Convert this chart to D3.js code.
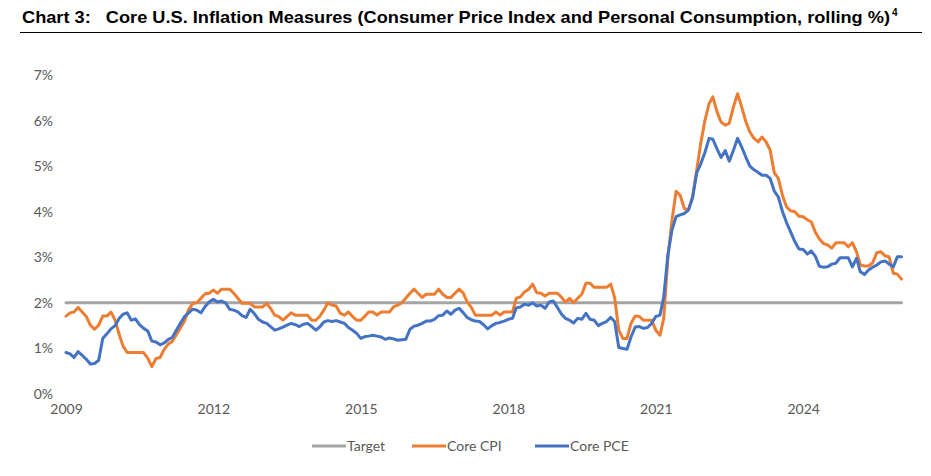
<!DOCTYPE html>
<html>
<head>
<meta charset="utf-8">
<script src="https://cdn.jsdelivr.net/npm/d3@7"></script>
<style>
  html, body { margin: 0; padding: 0; background: #ffffff; }
  svg { display: block; }
  .title { white-space: pre; }
</style>
</head>
<body>
<svg id="chart" width="931" height="476"></svg>
<script>
// ---- Data (monthly, Jan 2009 .. Jan 2026), values in % ----
const startYear = 2009;
const seriesNames = ["Target", "Core CPI", "Core PCE"];
const seriesColors = ["#a5a5a5", "#ed7d31", "#4472c4"];
const yTickLabels = ["0%", "1%", "2%", "3%", "4%", "5%", "6%", "7%"];
const xTickYears = [2009, 2012, 2015, 2018, 2021, 2024];

const coreCPI = [
  1.71,1.78,1.80,1.90,1.80,1.70,1.51,1.42,1.51,1.71,1.71,1.80,
  1.62,1.30,1.05,0.91,0.91,0.91,0.91,0.91,0.78,0.60,0.78,0.80,
  0.98,1.10,1.15,1.30,1.45,1.60,1.85,1.99,2.00,2.10,2.20,2.21,
  2.28,2.21,2.30,2.30,2.30,2.21,2.10,1.99,1.99,1.99,1.91,1.91,
  1.91,1.99,1.88,1.73,1.70,1.62,1.70,1.78,1.73,1.73,1.73,1.73,
  1.62,1.62,1.70,1.84,2.00,1.95,1.93,1.77,1.73,1.80,1.70,1.62,
  1.62,1.71,1.80,1.80,1.73,1.80,1.80,1.80,1.91,1.95,2.00,2.10,
  2.21,2.30,2.21,2.12,2.19,2.19,2.19,2.30,2.19,2.12,2.12,2.21,
  2.30,2.21,2.02,1.90,1.73,1.73,1.73,1.73,1.73,1.80,1.73,1.80,
  1.80,1.80,2.10,2.13,2.24,2.30,2.41,2.22,2.21,2.15,2.21,2.21,
  2.21,2.12,2.02,2.10,2.00,2.10,2.19,2.43,2.43,2.34,2.34,2.34,
  2.34,2.41,2.12,1.40,1.22,1.22,1.55,1.71,1.70,1.62,1.62,1.62,
  1.40,1.29,1.66,3.00,3.80,4.45,4.36,4.07,4.04,4.33,4.91,5.50,
  6.00,6.37,6.52,6.19,5.97,5.90,5.94,6.30,6.59,6.30,5.98,5.75,
  5.61,5.53,5.64,5.53,5.35,4.85,4.73,4.35,4.10,4.02,4.00,3.90,
  3.89,3.82,3.78,3.55,3.40,3.30,3.27,3.20,3.32,3.32,3.32,3.23,
  3.32,3.12,2.83,2.81,2.81,2.88,3.10,3.12,3.03,3.01,2.65,2.63,
  2.52
];

const corePCE = [
  0.91,0.88,0.80,0.93,0.85,0.76,0.66,0.67,0.74,1.22,1.32,1.43,
  1.50,1.66,1.75,1.78,1.62,1.65,1.52,1.44,1.38,1.16,1.14,1.08,
  1.12,1.20,1.24,1.40,1.55,1.70,1.78,1.86,1.84,1.78,1.92,2.02,
  2.08,2.02,2.04,2.00,1.86,1.84,1.80,1.72,1.68,1.86,1.76,1.64,
  1.58,1.55,1.48,1.40,1.43,1.47,1.51,1.55,1.52,1.48,1.53,1.55,
  1.48,1.40,1.47,1.58,1.61,1.59,1.61,1.58,1.55,1.46,1.40,1.33,
  1.22,1.26,1.27,1.29,1.27,1.25,1.20,1.23,1.21,1.18,1.19,1.20,
  1.42,1.49,1.51,1.55,1.60,1.60,1.64,1.72,1.73,1.82,1.75,1.84,
  1.88,1.78,1.68,1.63,1.60,1.59,1.52,1.43,1.50,1.55,1.57,1.60,
  1.64,1.66,1.89,1.91,1.97,1.95,2.00,1.93,1.95,1.88,2.02,2.04,
  1.90,1.75,1.66,1.62,1.56,1.66,1.64,1.77,1.64,1.62,1.50,1.55,
  1.59,1.68,1.59,1.02,1.00,0.98,1.25,1.47,1.48,1.44,1.46,1.55,
  1.70,1.73,2.13,3.05,3.60,3.89,3.93,3.96,4.04,4.30,4.85,5.05,
  5.30,5.61,5.59,5.38,5.19,5.34,5.11,5.35,5.61,5.42,5.20,5.00,
  4.92,4.86,4.80,4.80,4.73,4.45,4.32,4.00,3.75,3.55,3.34,3.18,
  3.17,3.07,3.14,3.02,2.80,2.78,2.79,2.85,2.87,2.99,2.99,2.99,
  2.79,2.98,2.68,2.62,2.72,2.78,2.83,2.90,2.92,2.85,2.79,3.01,
  3.01
];

const targetValue = 2.0;
const target = coreCPI.map(() => targetValue);

// ---- Build ----
const svg = d3.select("#chart");
const dates = coreCPI.map((_, i) => new Date(startYear, i, 1));

const x = d3.scaleTime()
  .domain([new Date(2009, 0, 1), new Date(2026, 0, 1)])
  .range([66, 901.5]);
const y = d3.scaleLinear().domain([0, 7]).range([394, 75]);

// Title
svg.append("text")
  .attr("class", "title")
  .attr("xml:space", "preserve")
  .attr("x", 22).attr("y", 23)
  .attr("font-family", "'Liberation Sans Narrow', 'Arial Narrow', 'Liberation Sans', Arial, sans-serif")
  .attr("font-weight", "bold")
  .attr("font-size", 17)
  .attr("fill", "#000")
  .attr("textLength", 868)
  .attr("lengthAdjust", "spacingAndGlyphs")
  .text("Chart 3:   Core U.S. Inflation Measures (Consumer Price Index and Personal Consumption, rolling %)");
svg.append("text")
  .attr("x", 892).attr("y", 16)
  .attr("font-family", "'Liberation Sans', Arial, sans-serif")
  .attr("font-weight", "bold")
  .attr("font-size", 10)
  .attr("fill", "#000")
  .text("4");
svg.append("line")
  .attr("x1", 20).attr("x2", 922)
  .attr("y1", 32.5).attr("y2", 32.5)
  .attr("stroke", "#000").attr("stroke-width", 1.2);

// Y axis labels
const yAxis = d3.axisLeft(y)
  .tickValues(d3.range(0, 8))
  .tickFormat((d, i) => yTickLabels[i])
  .tickSize(0).tickPadding(0);
const gy = svg.append("g").attr("transform", "translate(53,0)").call(yAxis);
gy.select(".domain").remove();
gy.selectAll("text")
  .attr("font-family", "Lato, 'Open Sans', sans-serif")
  .attr("font-size", 14)
  .attr("fill", "#595959");

// X axis labels
const xAxis = d3.axisBottom(x)
  .tickValues(xTickYears.map(yy => new Date(yy, 0, 1)))
  .tickFormat(d3.timeFormat("%Y"))
  .tickSize(0).tickPadding(0);
const gx = svg.append("g").attr("transform", "translate(0,404)").call(xAxis);
gx.select(".domain").remove();
gx.selectAll("text")
  .attr("dy", "0.71em")
  .attr("font-family", "Lato, 'Open Sans', sans-serif")
  .attr("font-size", 14)
  .attr("fill", "#595959");

// Lines
const line = d3.line()
  .x((d, i) => x(dates[i]))
  .y(d => y(d));

const seriesData = [target, coreCPI, corePCE];
seriesData.forEach((s, k) => {
  svg.append("path")
    .datum(s)
    .attr("fill", "none")
    .attr("stroke", seriesColors[k])
    .attr("stroke-width", 3)
    .attr("stroke-linejoin", "round")
    .attr("stroke-linecap", "round")
    .attr("d", line);
});

// Legend
const legendX = [312, 412, 535];
const legend = svg.append("g");
seriesNames.forEach((name, k) => {
  const g = legend.append("g").attr("transform", `translate(${legendX[k]},446)`);
  g.append("line")
    .attr("x1", 0).attr("x2", 34)
    .attr("y1", 0).attr("y2", 0)
    .attr("stroke", seriesColors[k]).attr("stroke-width", 3);
  g.append("text")
    .attr("x", 35).attr("y", 0).attr("dy", "0.35em")
    .attr("font-family", "Lato, 'Open Sans', sans-serif")
    .attr("font-size", 14)
    .attr("fill", "#595959")
    .text(name);
});
</script>
</body>
</html>
